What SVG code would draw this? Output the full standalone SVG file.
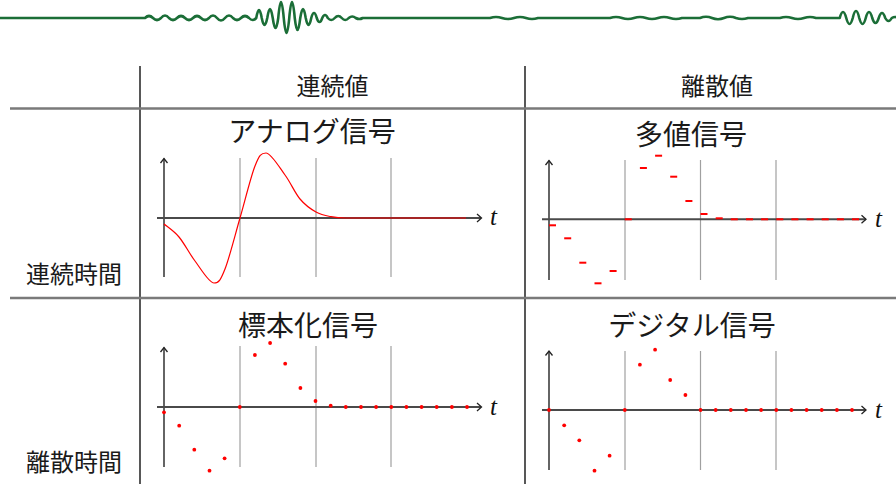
<svg xmlns="http://www.w3.org/2000/svg" width="896" height="484" viewBox="0 0 896 484">
<style>
.bg{fill:#fff}
.wave{fill:none;stroke:#1b6e37;stroke-width:2.6;stroke-linejoin:round;stroke-linecap:round}
.tv{stroke:#111;stroke-width:1.4}
.th{stroke:#7a7a7a;stroke-width:2.5}
.hdr{font-family:"Noto Sans CJK JP","Noto Sans CJK SC",sans-serif;font-size:24px;fill:#1a1a1a}
.ttl{font-family:"Noto Sans CJK JP","Noto Sans CJK SC",sans-serif;font-size:28px;fill:#1a1a1a;text-anchor:middle}
.grid{stroke:#a0a0a0;stroke-width:1.2}
.xax{stroke:#4a4a4a;stroke-width:2;fill:none}
.yax{stroke:#111;stroke-width:1.3;fill:none}
.arr{stroke:#222;stroke-width:1.3;fill:none}
.tl{font-family:"Liberation Serif",serif;font-style:italic;font-size:25px;fill:#111}
.sig{fill:none;stroke:#f00;stroke-width:1.2}
.dot{fill:#f00}
.dash{fill:#f00}
</style>
<rect class="bg" x="0" y="0" width="896" height="484"/>
<g id="wave">
<path class="wave" d="M0,18 L145,18 Q149,14 153,18 Q157,22 161,18 Q165,13 169,18 Q173,22 177,18 Q181,14 185,18 Q189,22 193,18 Q197,14 201,18 Q205,22 209,18 Q213,13 217,18 Q221,23 225,18 Q229,13 233,18 Q237,22 241,18 Q245,14 249,18 Q252.6,22 256.25,18 Q259,2 261.75,18 Q264.5,32 267.25,18 Q270,0 272.75,18 Q275.5,38 278.25,18 Q281,-14 283.75,18 Q286.5,48 289.25,18 Q292,-14 294.75,18 Q297.5,42 300.25,18 Q303,0 305.75,18 Q308.5,32 311.25,18 Q314,8 316.75,18 Q319.5,26 322.25,18 Q325,12 327.75,18 Q331.25,22 334.75,18 Q338.25,14 341.75,18 Q345.25,22 348.75,18 Q352.25,15 355.75,18 Q359.25,20 362.75,18 L490,18 Q496,16 502,18 Q508,20 514,18 Q520,16 526,18 Q532,20 538,18 L610,18 Q616,16 622,18 Q628,20 634,18 Q640,16 646,18 Q652,20 658,18 Q664,16 670,18 Q676,20 682,18 L700,18 Q706,15.5 712,18 Q718,20.5 724,18 Q730,15.5 736,18 Q742,20 748,18 L780,18 Q786,16 792,18 Q798,20 804,18 Q810,16 816,18 L839.75,18 Q843,6 846.25,18 Q849.5,30 852.75,18 Q856,4 859.25,18 Q862.5,30 865.75,18 Q869,6 872.25,18 Q875.5,28 878.75,18 Q882,8 885.25,18 Q888.5,24 891.75,18 Q895,16 898.25,18"/>
</g>
<g id="connectors">
<line class="tv" x1="140" y1="66" x2="140" y2="484"/>
<line class="tv" x1="525" y1="66" x2="525" y2="484"/>
<line class="th" x1="10" y1="108.5" x2="896" y2="108.5"/>
<line class="th" x1="10" y1="298" x2="896" y2="298"/>
</g>
<g id="header-continuous-value"><text class="hdr" x="332.5" y="95" text-anchor="middle">連続値</text></g>
<g id="header-discrete-value"><text class="hdr" x="717" y="95" text-anchor="middle">離散値</text></g>
<g id="row-continuous-time"><text class="hdr" x="26" y="283">連続時間</text></g>
<g id="row-discrete-time"><text class="hdr" x="26" y="471">離散時間</text></g>

<g id="analog-signal">
<text class="ttl" x="312" y="142">アナログ信号</text>
<line class="grid" x1="240" y1="158" x2="240" y2="277"/>
<line class="grid" x1="316" y1="158" x2="316" y2="277"/>
<line class="grid" x1="391" y1="158" x2="391" y2="277"/>
<line class="yax" x1="164" y1="277" x2="164" y2="158.5"/>
<path class="arr" d="M160.5,163 L164,158.5 L167.5,163"/>
<line class="xax" x1="157" y1="218" x2="481" y2="218"/>
<path class="arr" d="M477,214 L481.5,218 L477,222"/>
<text class="tl" x="490" y="225">t</text>
<path class="sig" d="M164,224 C166.5,226.2 173.8,230.8 179,237 C184.2,243.2 189.2,253.3 195,261 C200.8,268.7 209,283 214,283 C219,283 220.7,279.8 225,269 C229.3,258.2 235,235.2 240,218 C245,200.8 250.7,176.8 255,166 C259.3,155.2 261,153 266,153 C271,153 279.3,167.3 285,175 C290.7,182.7 294.8,192.8 300,199 C305.2,205.2 310.8,209.1 316,212 C321.2,214.9 326,215.7 331,216.7 C336,217.7 341,218 346,218 L466,218"/>
</g>

<g id="multilevel-signal">
<text class="ttl" x="691" y="145">多値信号</text>
<line class="grid" x1="625" y1="160" x2="625" y2="280"/>
<line class="grid" x1="700.5" y1="160" x2="700.5" y2="280"/>
<line class="grid" x1="776" y1="160" x2="776" y2="280"/>
<line class="yax" x1="549" y1="280" x2="549" y2="160.5"/>
<path class="arr" d="M545.5,165 L549,160.5 L552.5,165"/>
<line class="xax" x1="542" y1="219.3" x2="866" y2="219.3"/>
<path class="arr" d="M861.5,215.3 L866,219.3 L861.5,223.3"/>
<text class="tl" x="875" y="227">t</text>
<g class="dash">
<rect x="549" y="224.3" width="7" height="2"/>
<rect x="564.2" y="237.3" width="7" height="2"/>
<rect x="579.3" y="261.7" width="7" height="2"/>
<rect x="594.5" y="282.3" width="7" height="2"/>
<rect x="609.6" y="270" width="7" height="2"/>
<rect x="624.8" y="218.3" width="7" height="2"/>
<rect x="639.9" y="167" width="7" height="2"/>
<rect x="655.1" y="154.7" width="7" height="2"/>
<rect x="670.2" y="175.7" width="7" height="2"/>
<rect x="685.4" y="200" width="7" height="2"/>
<rect x="700.5" y="213" width="7" height="2"/>
<rect x="715.7" y="217.3" width="7" height="2"/>
<rect x="730.8" y="218.3" width="7" height="2"/>
<rect x="746" y="218.3" width="7" height="2"/>
<rect x="761.1" y="218.3" width="7" height="2"/>
<rect x="776.3" y="218.3" width="7" height="2"/>
<rect x="791.4" y="218.3" width="7" height="2"/>
<rect x="806.6" y="218.3" width="7" height="2"/>
<rect x="821.7" y="218.3" width="7" height="2"/>
<rect x="836.9" y="218.3" width="7" height="2"/>
<rect x="852" y="218.3" width="7" height="2"/>
</g>
</g>

<g id="sampled-signal">
<text class="ttl" x="308" y="336">標本化信号</text>
<line class="grid" x1="240" y1="346" x2="240" y2="467"/>
<line class="grid" x1="316" y1="346" x2="316" y2="467"/>
<line class="grid" x1="391" y1="346" x2="391" y2="467"/>
<line class="yax" x1="164" y1="467" x2="164" y2="347.5"/>
<path class="arr" d="M160.5,352 L164,347.5 L167.5,352"/>
<line class="xax" x1="157" y1="407" x2="481" y2="407"/>
<path class="arr" d="M477,403 L481.5,407 L477,411"/>
<text class="tl" x="490" y="415">t</text>
<g class="dot">
<circle cx="164" cy="412.3" r="1.9"/>
<circle cx="179.2" cy="425.7" r="1.9"/>
<circle cx="194.3" cy="449.7" r="1.9"/>
<circle cx="209.5" cy="470.7" r="1.9"/>
<circle cx="224.6" cy="458.3" r="1.9"/>
<circle cx="239.8" cy="407" r="1.9"/>
<circle cx="254.9" cy="355" r="1.9"/>
<circle cx="270.1" cy="343" r="1.9"/>
<circle cx="285.2" cy="363.7" r="1.9"/>
<circle cx="300.4" cy="388" r="1.9"/>
<circle cx="315.5" cy="401" r="1.9"/>
<circle cx="330.7" cy="405.7" r="1.9"/>
<circle cx="345.8" cy="407" r="1.9"/>
<circle cx="361" cy="407" r="1.9"/>
<circle cx="376.1" cy="407" r="1.9"/>
<circle cx="391.3" cy="407" r="1.9"/>
<circle cx="406.4" cy="407" r="1.9"/>
<circle cx="421.6" cy="407" r="1.9"/>
<circle cx="436.7" cy="407" r="1.9"/>
<circle cx="451.9" cy="407" r="1.9"/>
<circle cx="467" cy="407" r="1.9"/>
</g>
</g>

<g id="digital-signal">
<text class="ttl" x="692" y="336">デジタル信号</text>
<line class="grid" x1="625" y1="351" x2="625" y2="470"/>
<line class="grid" x1="700.5" y1="351" x2="700.5" y2="470"/>
<line class="grid" x1="776" y1="351" x2="776" y2="470"/>
<line class="yax" x1="549" y1="470" x2="549" y2="351"/>
<path class="arr" d="M545.5,355.5 L549,351 L552.5,355.5"/>
<line class="xax" x1="542" y1="410" x2="866" y2="410"/>
<path class="arr" d="M861.5,406 L866,410 L861.5,414"/>
<text class="tl" x="875" y="418">t</text>
<g class="dot">
<circle cx="549" cy="410" r="1.9"/>
<circle cx="564.2" cy="425.3" r="1.9"/>
<circle cx="579.3" cy="440.3" r="1.9"/>
<circle cx="594.5" cy="470.7" r="1.9"/>
<circle cx="609.6" cy="455.7" r="1.9"/>
<circle cx="624.8" cy="410" r="1.9"/>
<circle cx="639.9" cy="364.7" r="1.9"/>
<circle cx="655.1" cy="349.7" r="1.9"/>
<circle cx="670.2" cy="380" r="1.9"/>
<circle cx="685.4" cy="395" r="1.9"/>
<circle cx="700.5" cy="410" r="1.9"/>
<circle cx="715.7" cy="410" r="1.9"/>
<circle cx="730.8" cy="410" r="1.9"/>
<circle cx="746" cy="410" r="1.9"/>
<circle cx="761.1" cy="410" r="1.9"/>
<circle cx="776.3" cy="410" r="1.9"/>
<circle cx="791.4" cy="410" r="1.9"/>
<circle cx="806.6" cy="410" r="1.9"/>
<circle cx="821.7" cy="410" r="1.9"/>
<circle cx="836.9" cy="410" r="1.9"/>
<circle cx="852" cy="410" r="1.9"/>
</g>
</g>
</svg>
